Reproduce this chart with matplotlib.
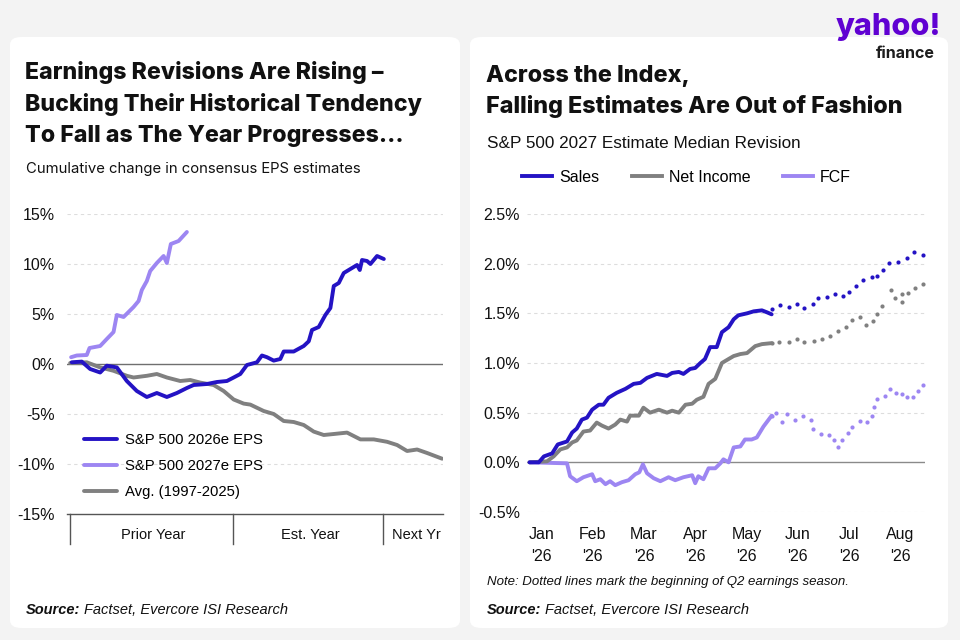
import matplotlib.pyplot as plt
from matplotlib.patches import FancyBboxPatch
from matplotlib.lines import Line2D
import matplotlib.transforms as mtransforms

# colours
DARK = '#2413c4'
LIGHT = '#9d86f2'
GRAY = '#808080'
BG = '#f3f3f3'
TXT = '#111111'

###########################################
########## Left panel data ################
###########################################
# x in months from start of prior year
eps27_x = [0.08, 0.53, 1.33, 1.55, 2.4, 2.93, 3.47, 3.73, 4.27, 5.07, 5.47, 5.73, 6.13, 6.4,
           6.93, 7.47, 7.73, 8.05, 8.67, 9.33]
eps27_y = [0.68, 0.85, 0.9, 1.6, 1.8, 2.5, 3.2, 4.9, 4.7, 5.7, 6.3, 7.4, 8.3, 9.3,
           10.1, 10.8, 10.1, 12.0, 12.3, 13.2]

eps26_x = [0.13, 0.93, 1.6, 2.4, 2.93, 3.73, 4.53, 5.33, 6.13, 6.93, 7.73, 8.53, 9.33, 9.87,
           10.93, 11.73, 12.53, 13.07, 13.6, 14.13, 14.93, 15.33, 15.73, 16.27, 16.8, 17.07,
           17.87, 18.67, 19.07, 19.33, 19.87, 20.4, 20.8, 21.07, 21.47, 21.87, 22.53, 22.93,
           23.15, 23.33, 23.73, 24.0, 24.53, 25.07]
eps26_y = [0.17, 0.24, -0.5, -0.85, -0.17, -0.34, -1.7, -2.7, -3.3, -2.9, -3.3, -2.9, -2.4, -2.1,
           -2.0, -1.8, -1.7, -1.35, -1.0, -0.1, 0.17, 0.85, 0.68, 0.34, 0.5, 1.25,
           1.25, 1.8, 2.27, 3.4, 3.7, 4.9, 5.6, 7.8, 8.1, 9.1, 9.6, 9.9,
           9.4, 10.4, 10.3, 10.0, 10.8, 10.5]

avg_x = [0, 1.33, 2.4, 3.47, 4.53, 5.07, 6.13, 6.93, 7.73, 8.8, 9.6, 10.4, 11.47, 12.27, 13.07,
         13.87, 14.4, 15.47, 16.27, 17.07, 17.87, 18.67, 19.47, 20.27, 21.07, 22.13, 23.2,
         24.27, 25.33, 26.13, 26.93, 27.73, 28.53, 29.73]
avg_y = [0.1, 0.17, -0.34, -0.68, -1.18, -1.35, -1.18, -1.0, -1.35, -1.7, -1.6, -1.86, -2.1, -2.7,
         -3.55, -3.96, -4.06, -4.7, -5.0, -5.7, -5.8, -6.1, -6.76, -7.1, -7.0, -6.86, -7.54,
         -7.54, -7.78, -8.1, -8.7, -8.55, -8.9, -9.47]

period_edges = [0, 13, 25]
period_labels = ['Prior Year', 'Est. Year', 'Next Yr']
period_label_x = [6.6, 19.2, 27.7]
left_yticks = [-15, -10, -5, 0, 5, 10, 15]

###########################################
########## Right panel data ###############
###########################################
# x in months, 0 = Jan '26
sales_x = [-0.23, -0.05, 0.05, 0.21, 0.32, 0.5, 0.6, 0.69, 0.79, 0.89, 0.99, 1.12, 1.21, 1.31,
           1.47, 1.64, 1.8, 1.93, 2.06, 2.25, 2.45, 2.55, 2.68, 2.77, 2.9, 3.0, 3.1, 3.19,
           3.29, 3.42, 3.52, 3.65, 3.75, 3.84, 4.01, 4.14, 4.3, 4.4, 4.49]
sales_y = [0, 0, 0.06, 0.09, 0.18, 0.21, 0.3, 0.34, 0.43, 0.45, 0.53, 0.58, 0.58, 0.65,
           0.70, 0.74, 0.79, 0.80, 0.85, 0.89, 0.87, 0.90, 0.91, 0.89, 0.94, 0.95, 1.0, 1.04,
           1.16, 1.16, 1.31, 1.36, 1.44, 1.48, 1.50, 1.52, 1.53, 1.51, 1.49]
sales_dot_x = [4.49, 4.66, 4.82, 4.98, 5.13, 5.29, 5.4, 5.56, 5.73, 5.89, 5.99, 6.13, 6.28, 6.44,
               6.54, 6.67, 6.77, 6.95, 7.12, 7.27, 7.44]
sales_dot_y = [1.54, 1.58, 1.56, 1.59, 1.55, 1.59, 1.65, 1.66, 1.69, 1.67, 1.71, 1.78, 1.84, 1.87,
               1.88, 1.94, 2.01, 2.02, 2.06, 2.12, 2.09]

ni_x = [-0.23, 0.11, 0.24, 0.37, 0.5, 0.6, 0.69, 0.82, 0.95, 1.08, 1.18, 1.31, 1.44, 1.54,
        1.67, 1.73, 1.9, 1.99, 2.12, 2.29, 2.45, 2.55, 2.68, 2.81, 2.94, 3.03, 3.16, 3.26,
        3.39, 3.52, 3.65, 3.75, 3.88, 4.01, 4.17, 4.3, 4.49]
ni_y = [0, 0.01, 0.06, 0.13, 0.15, 0.2, 0.22, 0.31, 0.32, 0.40, 0.37, 0.34, 0.38, 0.43,
        0.41, 0.47, 0.47, 0.55, 0.50, 0.53, 0.50, 0.52, 0.50, 0.58, 0.59, 0.63, 0.66, 0.79,
        0.84, 1.0, 1.04, 1.07, 1.09, 1.10, 1.17, 1.19, 1.20]
ni_dot_x = [4.49, 4.64, 4.82, 4.98, 5.13, 5.31, 5.47, 5.63, 5.79, 5.94, 6.05, 6.22, 6.33, 6.47,
            6.54, 6.64, 6.81, 6.9, 7.03, 7.04, 7.14, 7.29, 7.44]
ni_dot_y = [1.20, 1.21, 1.21, 1.24, 1.21, 1.22, 1.24, 1.27, 1.32, 1.36, 1.43, 1.46, 1.38, 1.42,
            1.49, 1.57, 1.73, 1.65, 1.61, 1.69, 1.70, 1.76, 1.80]

fcf_x = [-0.23, 0.5, 0.56, 0.69, 0.82, 0.99, 1.05, 1.15, 1.25, 1.34, 1.44, 1.57, 1.7, 1.83,
         1.91, 1.98, 2.06, 2.19, 2.32, 2.48, 2.61, 2.77, 2.94, 3.0, 3.06, 3.16, 3.26, 3.39,
         3.49, 3.55, 3.65, 3.75, 3.88, 3.97, 4.1, 4.2, 4.33, 4.49]
fcf_y = [0, -0.01, -0.14, -0.19, -0.15, -0.12, -0.19, -0.17, -0.22, -0.19, -0.23, -0.20, -0.18, -0.12,
         -0.10, -0.02, -0.11, -0.16, -0.19, -0.15, -0.18, -0.15, -0.13, -0.21, -0.14, -0.17, -0.06, -0.06,
         -0.01, 0.03, 0.0, 0.15, 0.16, 0.23, 0.23, 0.25, 0.36, 0.47]
fcf_dot_x = [4.49, 4.58, 4.69, 4.79, 4.95, 5.1, 5.26, 5.3, 5.45, 5.61, 5.71, 5.79, 5.86, 5.97,
             6.06, 6.21, 6.34, 6.44, 6.49, 6.55, 6.7, 6.79, 6.91, 7.03, 7.12, 7.25, 7.34, 7.44]
fcf_dot_y = [0.47, 0.50, 0.41, 0.49, 0.43, 0.47, 0.43, 0.34, 0.29, 0.28, 0.22, 0.15, 0.22, 0.30,
             0.36, 0.42, 0.41, 0.47, 0.56, 0.64, 0.67, 0.74, 0.70, 0.69, 0.66, 0.66, 0.72, 0.78]

month_labels = ["Jan\n'26", "Feb\n'26", "Mar\n'26", "Apr\n'26", "May\n'26", "Jun\n'26", "Jul\n'26", "Aug\n'26"]
right_yticks = [-0.5, 0.0, 0.5, 1.0, 1.5, 2.0, 2.5]

############################################
################ Figure ####################
############################################
W, H = 960, 640
fig = plt.figure(figsize=(9.6, 6.4), dpi=100, facecolor=BG)

def fx(px):
    return px / W

def fy(py):
    return 1 - py / H

# white cards (behind axes)
for x0, x1 in [(10, 460), (470, 948)]:
    card = FancyBboxPatch((fx(x0), fy(628)), fx(x1 - x0), (628 - 37) / H,
                          boxstyle='round,pad=0,rounding_size=0.012', transform=fig.transFigure,
                          facecolor='white', edgecolor='none', zorder=-5)
    fig.patches.append(card)

title_font = ['Inter', 'DejaVu Sans']
body_font = ['Liberation Sans', 'DejaVu Sans']
narrow_font = ['Liberation Sans Narrow', 'Liberation Sans', 'DejaVu Sans']
LW = 2.8

# titles
fig.text(fx(25), fy(61), 'Earnings Revisions Are Rising \u2013\nBucking Their Historical Tendency\nTo Fall as The Year Progresses...',
         family=title_font, weight='heavy', fontsize=16.7, color=TXT, va='top', ha='left', linespacing=1.52)
fig.text(fx(26), fy(169), 'Cumulative change in consensus EPS estimates', family=title_font,
         fontsize=10.7, color=TXT, va='center')
fig.text(fx(486), fy(65), 'Across the Index,\nFalling Estimates Are Out of Fashion',
         family=title_font, weight='heavy', fontsize=16.8, color=TXT, va='top', ha='left', linespacing=1.42)
fig.text(fx(487), fy(143), 'S&P 500 2027 Estimate Median Revision', family=body_font,
         fontsize=12.3, color=TXT, va='center')

# logo
fig.text(fx(941), fy(27), 'yahoo!', family=title_font, weight='heavy', fontsize=22, color='#6001d2',
         ha='right', va='center')
fig.text(fx(935), fy(53), 'finance', family=title_font, weight='bold', fontsize=11.5, color='#1d1d1d',
         ha='right', va='center')

############################################
############### Left chart #################
############################################
ax1 = fig.add_axes([fx(67), fy(514), fx(443 - 67), (514 - 214) / H])
ax1.set_facecolor('white')
ax1.plot(avg_x, avg_y, color=GRAY, lw=LW, solid_capstyle='round', label='Avg. (1997-2025)', zorder=3)
ax1.plot(eps27_x, eps27_y, color=LIGHT, lw=LW, solid_capstyle='round', label='S&P 500 2027e EPS', zorder=4)
ax1.plot(eps26_x, eps26_y, color=DARK, lw=LW, solid_capstyle='round', label='S&P 500 2026e EPS', zorder=5)
ax1.set_xlim(-0.25, 29.8)
ax1.set_ylim(-15, 15)
ax1.set_yticks(left_yticks)
ax1.set_yticklabels([f'{t}%' for t in left_yticks], family=body_font, fontsize=11.5, color=TXT)
ax1.tick_params(axis='y', length=0, pad=9)
ax1.set_xticks([])
for t in left_yticks:
    if t == 0:
        ax1.axhline(0, color='#6f6f6f', lw=1, zorder=2)
    elif t != -15:
        ax1.axhline(t, color='#dddddd', lw=0.8, ls=(0, (3, 3)), zorder=1)
for s in ['top', 'right', 'left']:
    ax1.spines[s].set_visible(False)
ax1.spines['bottom'].set_color('#555555')
ax1.spines['bottom'].set_linewidth(1)

trans = mtransforms.blended_transform_factory(ax1.transData, ax1.transAxes)
for e in period_edges:
    ax1.plot([e, e], [0, -0.1], color='#555555', lw=1, transform=trans, clip_on=False)
for lx, lab in zip(period_label_x, period_labels):
    ax1.text(lx, -0.07, lab, transform=trans, ha='center', va='center', family=body_font,
             fontsize=10.5, color=TXT)

h, l = ax1.get_legend_handles_labels()
ax1.legend(h[::-1], l[::-1], loc='center left', bbox_to_anchor=(0.045, 0.16), frameon=False,
           prop={'family': body_font, 'size': 10.7}, handlelength=2.2, handletextpad=0.55,
           labelspacing=0.8, borderpad=0, borderaxespad=0)

############################################
############### Right chart ################
############################################
ax2 = fig.add_axes([fx(527), fy(512), fx(925 - 527), (512 - 214) / H])
ax2.set_facecolor('white')
ax2.plot(fcf_x, fcf_y, color=LIGHT, lw=LW, solid_capstyle='round', zorder=3)
ax2.plot(ni_x, ni_y, color=GRAY, lw=LW, solid_capstyle='round', zorder=4)
ax2.plot(sales_x, sales_y, color=DARK, lw=LW, solid_capstyle='round', zorder=5)
ax2.plot(fcf_dot_x, fcf_dot_y, ls='none', marker='o', ms=3, mew=0, color=LIGHT, zorder=3)
ax2.plot(ni_dot_x, ni_dot_y, ls='none', marker='o', ms=3, mew=0, color=GRAY, zorder=4)
ax2.plot(sales_dot_x, sales_dot_y, ls='none', marker='o', ms=3, mew=0, color=DARK, zorder=5)
ax2.set_xlim(-0.28, 7.48)
ax2.set_ylim(-0.5, 2.5)
ax2.set_yticks(right_yticks)
ax2.set_yticklabels([f'{t:.1f}%' for t in right_yticks], family=body_font, fontsize=11.5, color=TXT)
ax2.set_xticks(range(len(month_labels)))
ax2.set_xticklabels(month_labels, family=body_font, fontsize=11.5, color=TXT, linespacing=1.55)
ax2.tick_params(axis='both', length=0)
ax2.tick_params(axis='y', pad=5)
ax2.tick_params(axis='x', pad=11)
for t in right_yticks:
    if t == 0:
        ax2.axhline(0, color='#8a8a8a', lw=1, zorder=2)
    else:
        ax2.axhline(t, color='#dddddd', lw=0.8, ls=(0, (3, 3)), zorder=1)
for s in ax2.spines.values():
    s.set_visible(False)

handles = [Line2D([], [], color=DARK, lw=LW), Line2D([], [], color=GRAY, lw=LW),
           Line2D([], [], color=LIGHT, lw=LW)]
fig.legend(handles, ['Sales', 'Net Income', 'FCF'], loc='center left',
           bbox_to_anchor=(fx(522), fy(177)), ncol=3, frameon=False,
           prop={'family': body_font, 'size': 11.5}, handlelength=1.9, handletextpad=0.45,
           columnspacing=2.0, borderpad=0, borderaxespad=0)

############################################
############### Footers ####################
############################################
fig.text(fx(487), fy(582), 'Note: Dotted lines mark the beginning of Q2 earnings season.',
         family=narrow_font, style='italic', fontsize=9.5, color=TXT, va='center')

renderer = fig.canvas.get_renderer()
for x0 in [26, 487]:
    t = fig.text(fx(x0), fy(610), 'Source:', family=narrow_font, style='italic', weight='bold',
                 fontsize=10.5, color=TXT, va='center')
    bb = t.get_window_extent(renderer)
    fig.text(bb.x1 / W + fx(4), fy(610), 'Factset, Evercore ISI Research', family=narrow_font,
             style='italic', fontsize=10.5, color=TXT, va='center')

fig.savefig('out.png', dpi=100, facecolor=BG)
